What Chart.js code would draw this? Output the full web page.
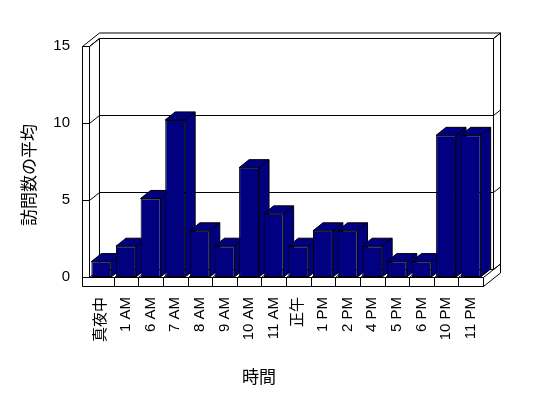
<!DOCTYPE html>
<html>
<head>
<meta charset="utf-8">
<script src="https://cdn.jsdelivr.net/npm/chart.js@4/dist/chart.umd.min.js"></script>
<style>
  body { margin: 0; background: #fff; }
  #wrap { width: 548px; height: 398px; }
</style>
</head>
<body>
<div id="wrap"><canvas id="c" width="548" height="398"></canvas></div>
<script>
var hours = ['真夜中', '1 AM', '6 AM', '7 AM', '8 AM', '9 AM', '10 AM', '11 AM',
             '正午', '1 PM', '2 PM', '4 PM', '5 PM', '6 PM', '10 PM', '11 PM'];
var visits = [1, 2, 5.1, 10.2, 3, 2, 7.1, 4.1, 2, 3, 3, 2, 1, 1, 9.2, 9.2];
var yTitle = '訪問数の平均';
var xTitle = '時間';

var NAVY = '#000080';
var DX = 10, DY = -8;      // depth of the plot box
var TX = 7, TY = -5.5;     // thickness of back wall
var WALL = 7, FLOOR = 9;   // left wall / floor slab

function line(ctx, x1, y1, x2, y2) {
    ctx.beginPath();
    ctx.moveTo(x1, y1);
    ctx.lineTo(x2, y2);
    ctx.stroke();
}

var box3d = {
    id: 'box3d',
    beforeDatasetsDraw: function (chart) {
        var ctx = chart.ctx;
        var a = chart.chartArea;
        var ys = chart.scales.y;
        var L = Math.round(a.left) + 0.5, R = Math.round(a.right) + 0.5;
        var T = Math.round(a.top) + 0.5, B = Math.round(a.bottom) + 0.5;
        ctx.save();
        ctx.strokeStyle = '#000';
        ctx.lineWidth = 1;

        // left wall + top of back wall
        line(ctx, L - WALL, T, L - WALL, B + FLOOR);
        line(ctx, L, T, L, B);
        line(ctx, L - WALL, T, L, T);
        line(ctx, L - WALL, T, L - WALL + DX + TX, T + DY + TY);
        line(ctx, L - WALL + DX + TX, T + DY + TY, R + DX + TX, T + DY + TY);
        line(ctx, L, T, L + DX, T + DY);
        line(ctx, L + DX, T + DY, L + DX, B + DY);
        line(ctx, R + DX, T + DY, R + DX, B + DY);
        line(ctx, R + DX, T + DY, R + DX + TX, T + DY + TY);
        line(ctx, R + DX + TX, T + DY + TY, R + DX + TX, B + FLOOR + DY + TY);

        // gridlines from the y scale
        ys.ticks.forEach(function (t) {
            var y = Math.round(ys.getPixelForValue(t.value)) + 0.5;
            line(ctx, L - WALL, y, L, y);
            line(ctx, L, y, L + DX, y + DY);
            line(ctx, L + DX, y + DY, R + DX, y + DY);
            line(ctx, R + DX, y + DY, R + DX + TX, y + DY + TY);
        });

        // floor slab
        line(ctx, L, B, R, B);
        line(ctx, L - WALL, B + FLOOR, R, B + FLOOR);
        line(ctx, R, B, R, B + FLOOR);
        line(ctx, R, B, R + DX + TX, B + DY + TY);
        line(ctx, R, B + FLOOR, R + DX + TX, B + FLOOR + DY + TY);
        var xs = chart.scales.x;
        for (var i = 1; i < hours.length; i++) {
            var x = Math.round((xs.getPixelForTick(i - 1) + xs.getPixelForTick(i)) / 2) + 0.5;
            line(ctx, x, B, x, B + FLOOR);
            line(ctx, x, B, x + DX, B + DY);
        }

        // top and side faces of the bars, left to right
        chart.getDatasetMeta(0).data.forEach(function (bar) {
            var p = bar.getProps(['x', 'y', 'base', 'width'], true);
            var l = p.x - p.width / 2, r = p.x + p.width / 2;
            ctx.fillStyle = NAVY;
            ctx.beginPath();
            ctx.moveTo(l, p.y);
            ctx.lineTo(l + DX, p.y + DY);
            ctx.lineTo(r + DX, p.y + DY);
            ctx.lineTo(r + DX, p.base + DY);
            ctx.lineTo(r, p.base);
            ctx.lineTo(r, p.y);
            ctx.closePath();
            ctx.fill();
            ctx.stroke();
            line(ctx, r, p.y, r + DX, p.y + DY);
        });
        ctx.restore();
    },
    afterDraw: function (chart) {
        var ctx = chart.ctx;
        ctx.save();
        ctx.fillStyle = '#000';
        ctx.font = "17px 'Noto Sans CJK JP', sans-serif";
        ctx.textAlign = 'center';
        ctx.textBaseline = 'middle';
        ctx.fillText(xTitle, 259, 377);
        ctx.translate(29, 175);
        ctx.rotate(-Math.PI / 2);
        ctx.fillText(yTitle, 0, 0);
        ctx.restore();
    }
};

Chart.defaults.font.family = "'Liberation Sans', 'Noto Sans CJK JP', sans-serif";
Chart.defaults.font.size = 15;
Chart.defaults.color = '#000';

new Chart(document.getElementById('c'), {
    type: 'bar',
    data: {
        labels: hours,
        datasets: [{
            data: visits,
            backgroundColor: NAVY,
            borderColor: '#000',
            borderWidth: 1,
            borderSkipped: false,
            barPercentage: 0.81,
            categoryPercentage: 1
        }]
    },
    options: {
        responsive: false,
        animation: false,
        layout: { padding: { left: 0, top: 46, right: 65, bottom: 0 } },
        plugins: { legend: { display: false }, tooltip: { enabled: false } },
        scales: {
            x: {
                grid: { display: false, drawTicks: false },
                border: { display: false },
                ticks: { autoSkip: false, minRotation: 90, maxRotation: 90, padding: 20 },
                afterFit: function (s) { s.height = 121; }
            },
            y: {
                min: 0, max: 15,
                grid: { display: false, drawTicks: false },
                border: { display: false },
                ticks: { stepSize: 5, padding: 19 },
                afterFit: function (s) { s.width = 89; }
            }
        }
    },
    plugins: [box3d]
});
</script>
</body>
</html>
